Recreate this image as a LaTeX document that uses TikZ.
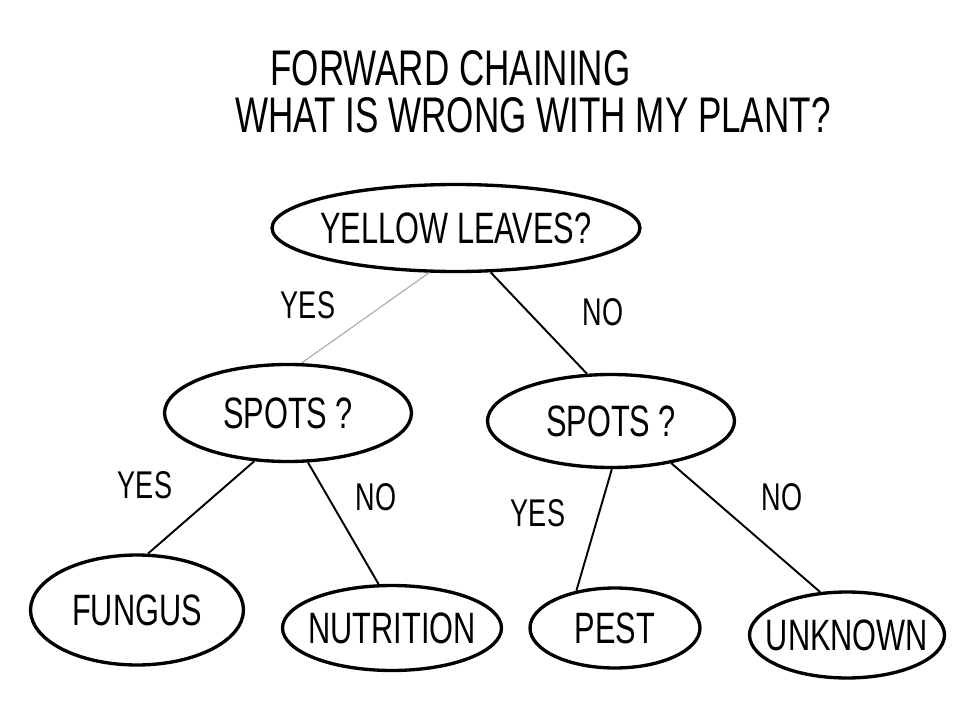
\documentclass[tikz,border=0pt]{standalone}
\usepackage{fontspec}
\setmainfont{Liberation Sans}[FakeStretch=0.7]
\usetikzlibrary{shapes.geometric}
\begin{document}
\begin{tikzpicture}[x=0.02cm,y=-0.02cm,
  question/.style={ellipse,draw,line width=1.9pt,inner xsep=-1cm,inner ysep=0pt,font=\fontsize{25}{27}\selectfont},
  answer/.style={font=\fontsize{22}{24}\selectfont},
  branch/.style={line width=1.1pt},
  heading/.style={anchor=west,inner sep=0pt,font=\fontsize{28.5}{31}\selectfont}]
\useasboundingbox (0,0) rectangle (975,710);
\node[heading] (title) at (270,68) {FORWARD CHAINING};
\node[heading] (subtitle) at (235,115) {WHAT IS WRONG WITH MY PLANT?};
\node[question,minimum width=7.36cm,minimum height=1.74cm] (root) at (456,228) {YELLOW LEAVES?};
\node[question,minimum width=4.94cm,minimum height=1.94cm] (spotsL) at (288,413) {SPOTS ?};
\node[question,minimum width=4.94cm,minimum height=1.86cm] (spotsR) at (611,421) {SPOTS ?};
\node[question,minimum width=4.26cm,minimum height=2.2cm] (fungus) at (137,610) {FUNGUS};
\node[question,minimum width=4.38cm,minimum height=1.7cm] (nutrition) at (392,628) {NUTRITION};
\node[question,minimum width=3.4cm,minimum height=1.6cm] (pest) at (615,628) {PEST};
\node[question,minimum width=3.9cm,minimum height=1.72cm] (unknown) at (847,635) {UNKNOWN};
\draw[gray!70,line width=0.6pt] (root.239) -- (spotsL.75);
\draw[branch] (root.308) -- (spotsR.117);
\draw[branch] (spotsL.235) -- (fungus.79);
\draw[branch] (spotsL.292) -- (nutrition.107);
\draw[branch] (spotsR.271) -- (pest.136);
\draw[branch] (spotsR.325) -- (unknown.122);
\node[answer] (yesA) at (308,305) {YES};
\node[answer] (noA) at (603,312) {NO};
\node[answer] (yesB) at (145,485) {YES};
\node[answer] (noB) at (376,497) {NO};
\node[answer] (yesC) at (538,513) {YES};
\node[answer] (noC) at (782,497) {NO};
\end{tikzpicture}
\end{document}
